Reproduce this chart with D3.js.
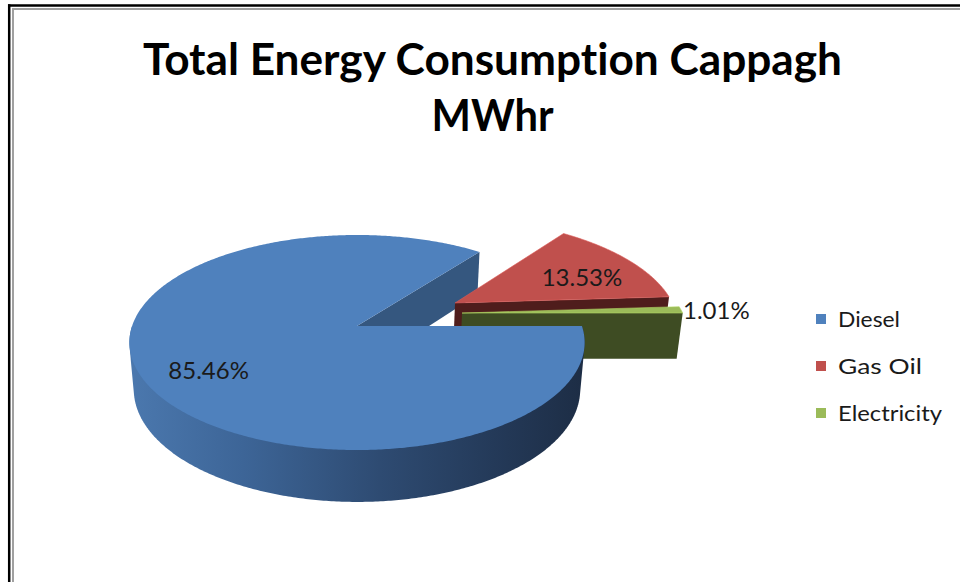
<!DOCTYPE html>
<html>
<head>
<meta charset="utf-8">
<script src="https://cdn.jsdelivr.net/npm/d3@7"></script>
<style>
  html, body { margin: 0; padding: 0; background: #fff; }
  svg { display: block; }
  text { font-variant-ligatures: none; font-feature-settings: "liga" 0, "clig" 0; }
</style>
</head>
<body>
<svg id="chart" width="960" height="582"></svg>
<script>
// ---- data ----
const titleLines = ["Total Energy Consumption Cappagh", "MWhr"];
const categories = ["Diesel", "Gas Oil", "Electricity"];
const shares = [85.46, 13.53, 1.01];
const valueLabels = ["85.46%", "13.53%", "1.01%"];

// ---- styling ----
const topColors = ["#4F81BD", "#C0504D", "#9BBB59"];
const cutColors = ["#35577f", "#4f1d1c", "#3e4c23"];
// slice offsets in radius units: [right, back]
const explode = [[0, 0], [0.451, 0.227], [0.476, 0.126]];
const labelPos = [
  { r: 0.70, dx: 0, dy: 19, anchor: "middle" },
  { r: 0.72, dx: 0, dy: 15, anchor: "middle" },
  { r: 1.00, dx: 2, dy: 9,  anchor: "start" }
];
const font = "Lato, 'Open Sans', 'DejaVu Sans', sans-serif";

const svg = d3.select("#chart");

// frame lines
svg.append("line").attr("x1", 9.2).attr("y1", 4.3).attr("x2", 9.2).attr("y2", 582)
  .attr("stroke", "#000").attr("stroke-width", 2.5);
svg.append("line").attr("x1", 8).attr("y1", 5.5).attr("x2", 960).attr("y2", 5.5)
  .attr("stroke", "#000").attr("stroke-width", 2.5);
svg.append("line").attr("x1", 13).attr("y1", 8).attr("x2", 13).attr("y2", 582)
  .attr("stroke", "#a0a0a0").attr("stroke-width", 2);
svg.append("line").attr("x1", 12).attr("y1", 9).attr("x2", 960).attr("y2", 9)
  .attr("stroke", "#a0a0a0").attr("stroke-width", 2);

// title
const titleBox = [{ y: 75, w: 699 }, { y: 131, w: 122 }];
svg.append("g").selectAll("text").data(titleLines).join("text")
  .attr("x", 492.5).attr("y", (d, i) => titleBox[i].y)
  .attr("text-anchor", "middle")
  .attr("font-family", font).attr("font-weight", 700).attr("font-size", 43)
  .attr("textLength", (d, i) => titleBox[i].w).attr("lengthAdjust", "spacingAndGlyphs")
  .attr("fill", "#000").text(d => d);

// ---- perspective camera for the 3D pie ----
const cam = { cx: 357, cy: 326, F: 1296, d: 5.762, sinA: 0.4667, cosA: 0.8844, t: 0.238 };
function project(X, B, Y) {
  // X: right, B: back (away from viewer), Y: up (0 = top face, -t = bottom)
  const ry = Y - cam.d * cam.sinA;
  const rz = -B - cam.d * cam.cosA;
  const depth = -ry * cam.sinA - rz * cam.cosA;
  const up = ry * cam.cosA - rz * cam.sinA;
  return [cam.cx + cam.F * X / depth, cam.cy - cam.F * up / depth];
}

const pie = d3.pie().sort(null).value(d => d)
  .startAngle(Math.PI / 2).endAngle(Math.PI / 2 + 2 * Math.PI);
const arcs = pie(shares);
// d3 angles run clockwise from 12 o'clock; theta runs counter-clockwise from 3 o'clock
const theta = a => Math.PI / 2 - a;

function pt(i, th, r, Y) {
  const [ox, ob] = explode[i];
  return project(ox + r * Math.cos(th), ob + r * Math.sin(th), Y);
}
function arcPoints(i, th0, th1, Y) {
  const n = Math.max(4, Math.ceil(Math.abs(th1 - th0) / 0.01));
  return d3.range(n + 1).map(k => pt(i, th0 + (th1 - th0) * k / n, 1, Y));
}
const line = d3.line().curve(d3.curveLinearClosed);

function topFace(i) {
  const a = arcs[i];
  return [pt(i, 0, 0, 0)].concat(arcPoints(i, theta(a.startAngle), theta(a.endAngle), 0));
}
function endFace(i) {
  const th = theta(arcs[i].endAngle);
  return [pt(i, th, 0, 0), pt(i, th, 1, 0), pt(i, th, 1, -cam.t), pt(i, th, 0, -cam.t)];
}
function wallHull(i) {
  const a = arcs[i];
  const th0 = theta(a.startAngle), th1 = theta(a.endAngle);
  const n = Math.ceil(Math.abs(th1 - th0) / 0.01);
  const pts = [];
  for (let k = 0; k <= n; k++) {
    const th = th0 + (th1 - th0) * k / n;
    if (Math.sin(th) <= 1e-9) {
      pts.push(pt(i, th, 1, 0), pt(i, th, 1, -cam.t));
    }
  }
  return pts.length > 4 ? d3.polygonHull(pts) : null;
}

const defs = svg.append("defs");
const gPie = svg.append("g");

// far pieces first, Diesel wall and top face last
gPie.append("path").attr("d", line(endFace(0))).attr("fill", cutColors[0]);
[1, 2].forEach(i => {
  gPie.append("path").attr("d", line(endFace(i))).attr("fill", cutColors[i]);
  gPie.append("path").attr("d", line(topFace(i))).attr("fill", topColors[i])
    .attr("stroke", d3.color(topColors[i]).brighter(0.4)).attr("stroke-width", 0.6);
});

const hull = wallHull(0);
const xs = d3.extent(hull, p => p[0]);
const grad = defs.append("linearGradient").attr("id", "wallGrad")
  .attr("gradientUnits", "userSpaceOnUse")
  .attr("x1", xs[0]).attr("x2", xs[1]).attr("y1", 0).attr("y2", 0);
[[0, "#4b78ae"], [0.25, "#3d6597"], [0.55, "#2e4b72"], [0.8, "#243a59"], [1, "#1d2d45"]]
  .forEach(([o, c]) => grad.append("stop").attr("offset", o).attr("stop-color", c));
gPie.append("path").attr("d", line(hull)).attr("fill", "url(#wallGrad)");
gPie.append("path").attr("d", line(topFace(0))).attr("fill", topColors[0]);

// value labels
svg.append("g").selectAll("text").data(arcs).join("text")
  .each(function (a, i) {
    const th = (theta(a.startAngle) + theta(a.endAngle)) / 2;
    const lp = labelPos[i];
    const p = pt(i, th, lp.r, 0);
    d3.select(this).attr("x", p[0] + lp.dx).attr("y", p[1] + lp.dy)
      .attr("text-anchor", lp.anchor);
  })
  .attr("font-family", font).attr("font-size", 24).attr("fill", "#1a1a1a")
  .text((a, i) => valueLabels[i]);

// legend
const legendY = d3.scalePoint().domain(categories).range([327, 421]);
const legend = svg.append("g").selectAll("g").data(categories).join("g");
legend.append("rect")
  .attr("x", 816).attr("y", d => legendY(d) - 13).attr("width", 10).attr("height", 10)
  .attr("fill", (d, i) => topColors[i]);
const legendW = [62, 84, 104];
legend.append("text")
  .attr("x", 838).attr("y", d => legendY(d))
  .attr("font-family", font).attr("font-size", 22).attr("fill", "#1a1a1a")
  .attr("textLength", (d, i) => legendW[i]).attr("lengthAdjust", "spacingAndGlyphs")
  .text(d => d);
</script>
</body>
</html>
